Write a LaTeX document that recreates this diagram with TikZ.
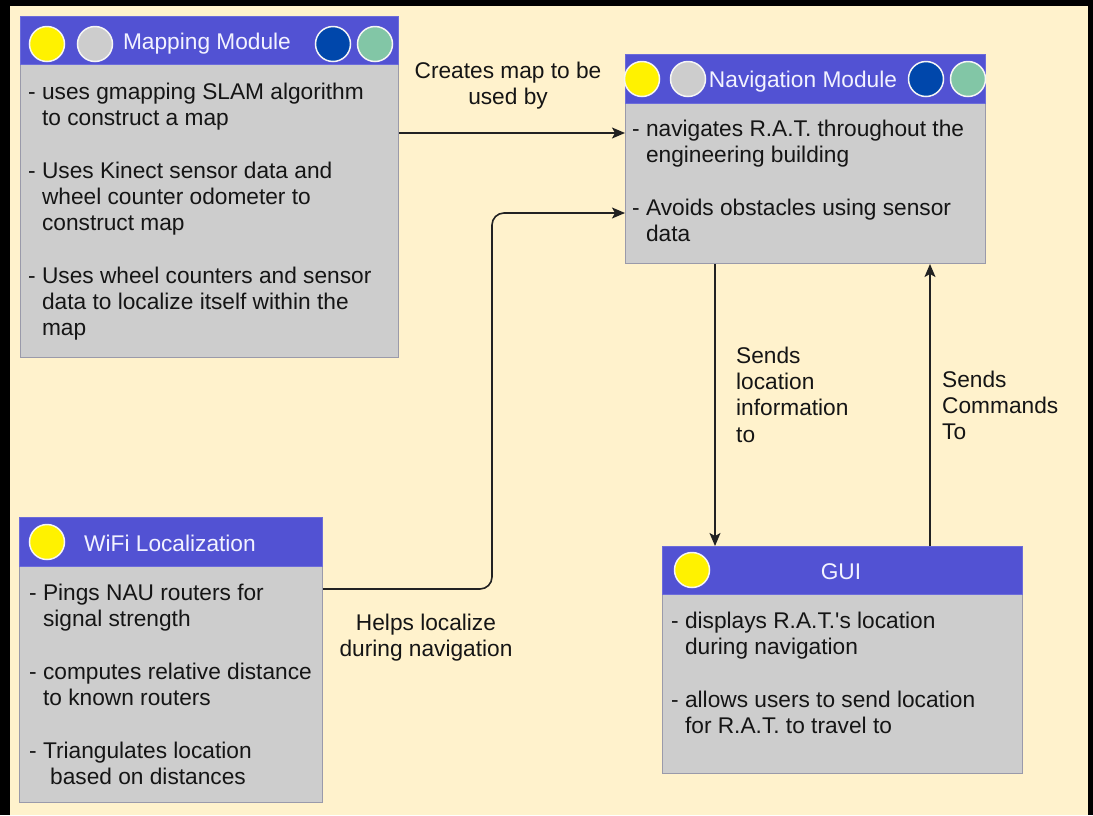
\documentclass[tikz,border=0pt]{standalone}
\usepackage{fontspec}
\setmainfont{Liberation Sans}
\usetikzlibrary{arrows.meta}
\definecolor{bgc}{HTML}{FFF2CC}
\definecolor{hdrc}{HTML}{5252D3}
\definecolor{bodyc}{HTML}{CDCDCD}
\definecolor{bordc}{HTML}{9A9AAA}
\definecolor{dblue}{HTML}{0047AB}
\definecolor{mint}{HTML}{82C6A6}
\definecolor{ttlc}{HTML}{F2F2FF}
\definecolor{txtc}{HTML}{151515}
\definecolor{linec}{HTML}{222222}
\begin{document}
\begin{tikzpicture}[x=1pt,y=-1pt,
  hdrbox/.style={draw=hdrc!85!white, fill=hdrc, anchor=north west, inner sep=0pt, line width=1pt},
  bodybox/.style={draw=bordc, fill=bodyc, anchor=north west, inner sep=0pt, line width=1pt},
  dot/.style={circle, minimum size=35pt, inner sep=0pt, line width=1.5pt, draw=white!92!gray},
  ttl/.style={anchor=base, inner sep=0pt, text=ttlc, font=\fontsize{22.7}{26.3}\selectfont},
  btxt/.style={anchor=north west, align=left, inner sep=0pt, text=txtc, font=\fontsize{22.7}{26.3}\selectfont},
  lbl/.style={anchor=north, align=center, inner sep=0pt, text=txtc, font=\fontsize{22.7}{26.3}\selectfont},
  lbll/.style={anchor=north west, align=left, inner sep=0pt, text=txtc, font=\fontsize{22.7}{26.3}\selectfont},
  conn/.style={draw=linec, line width=1.6pt, -{Stealth[length=13pt,width=11pt,inset=3pt]}}
]
\useasboundingbox (0,0) rectangle (1093,815);
\fill[black] (0,0) rectangle (1093,815);
\fill[bgc] (10,6) rectangle (1088,815);

% ---------- Mapping Module ----------
\node[bodybox, minimum width=378pt, minimum height=293pt] (mapB) at (20,64) {};
\node[hdrbox, minimum width=378pt, minimum height=48pt] (mapH) at (20,16) {};
\node[dot, fill=yellow] (mapD1) at (47,44) {};
\node[dot, fill=bodyc] (mapD2) at (95,44) {};
\node[dot, fill=dblue] (mapD3) at (333,44) {};
\node[dot, fill=mint] (mapD4) at (375,44) {};
\node[ttl] (mapT) at (207,49) {Mapping Module};
\node[btxt] (mapX) at (28,79) {\rule{0pt}{20pt}- uses gmapping SLAM algorithm\\
\phantom{- }to construct a map\\[26.3pt]
- Uses Kinect sensor data and\\
\phantom{- }wheel counter odometer to\\
\phantom{- }construct map\\[26.3pt]
- Uses wheel counters and sensor\\
\phantom{- }data to localize itself within the\\
\phantom{- }map};

% ---------- Navigation Module ----------
\node[bodybox, minimum width=360pt, minimum height=160pt] (navB) at (625,103) {};
\node[hdrbox, minimum width=360pt, minimum height=49pt] (navH) at (625,54) {};
\node[dot, fill=yellow] (navD1) at (642,79) {};
\node[dot, fill=bodyc] (navD2) at (688,79) {};
\node[dot, fill=dblue] (navD3) at (926,79) {};
\node[dot, fill=mint] (navD4) at (968,79) {};
\node[ttl] (navT) at (803,87) {Navigation Module};
\node[btxt] (navX) at (632,116) {\rule{0pt}{20pt}- navigates R.A.T. throughout the\\
\phantom{- }engineering building\\[26.3pt]
- Avoids obstacles using sensor\\
\phantom{- }data};

% ---------- WiFi Localization ----------
\node[bodybox, minimum width=303pt, minimum height=236pt] (wifiB) at (19,566) {};
\node[hdrbox, minimum width=303pt, minimum height=49pt] (wifiH) at (19,517) {};
\node[dot, fill=yellow] (wifiD1) at (47,542) {};
\node[ttl] (wifiT) at (170,551) {WiFi Localization};
\node[btxt] (wifiX) at (29,580) {\rule{0pt}{20pt}- Pings NAU routers for\\
\phantom{- }signal strength\\[26.3pt]
- computes relative distance\\
\phantom{- }to known routers\\[26.3pt]
- Triangulates location\\
\hspace*{21pt}based on distances};

% ---------- GUI ----------
\node[bodybox, minimum width=360pt, minimum height=179pt] (guiB) at (662,594) {};
\node[hdrbox, minimum width=360pt, minimum height=48pt] (guiH) at (662,546) {};
\node[dot, fill=yellow] (guiD1) at (692,570) {};
\node[ttl] (guiT) at (841,579) {GUI};
\node[btxt] (guiX) at (671,608) {\rule{0pt}{20pt}- displays R.A.T.\textquotesingle s location\\
\phantom{- }during navigation\\[26.3pt]
- allows users to send location\\
\phantom{- }for R.A.T. to travel to};

% ---------- helper coordinates ----------
\coordinate (yMap) at (0,133);
\coordinate (bendA) at (492,589);
\coordinate (bendB) at (492,213);
\coordinate (xDown) at (715,0);
\coordinate (xUp) at (930,0);

% ---------- connectors ----------
\draw[conn] (mapB.east |- yMap) -- (navB.west |- yMap);
\draw[conn, rounded corners=12pt] (wifiB.east |- bendA) -- (bendA) -- (bendB) -- (navB.west |- bendB);
\draw[conn] (xDown |- navB.south) -- (xDown |- guiH.north);
\draw[conn] (xUp |- guiH.north) -- (xUp |- navB.south);

% ---------- labels ----------
\node[lbl] (lblMap) at (508,58) {\rule{0pt}{20pt}Creates map to be\\used by};
\node[lbl] (lblWifi) at (426,610) {\rule{0pt}{20pt}Helps localize\\during navigation};
\node[lbll] (lblLoc) at (736,343) {\rule{0pt}{20pt}Sends\\location\\information\\to};
\node[lbll] (lblCmd) at (942,367) {\rule{0pt}{20pt}Sends\\Commands\\To};
\end{tikzpicture}
\end{document}
